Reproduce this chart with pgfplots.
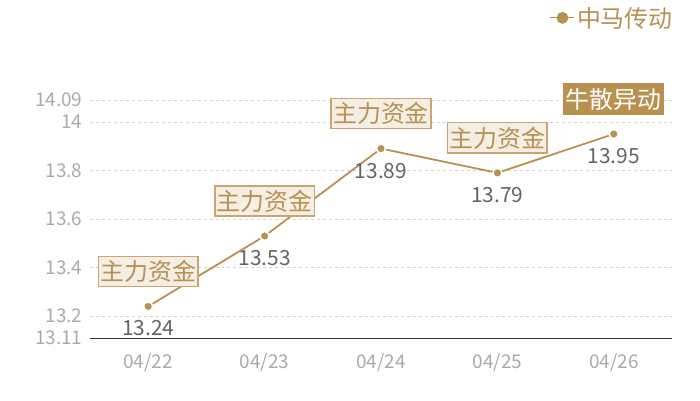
\documentclass[border=0pt]{standalone}
\usepackage{pgfplots}
\pgfplotsset{compat=1.18}
\usepackage{fontspec}
\setmainfont{Noto Sans CJK SC}
\definecolor{brn}{RGB}{184,145,80}
\definecolor{boxfill}{RGB}{244,238,229}
\definecolor{boxdraw}{RGB}{200,166,112}
\definecolor{ticklab}{RGB}{170,170,170}
\definecolor{vallab}{RGB}{100,100,100}
\definecolor{gridc}{RGB}{210,210,210}
\begin{document}
\begin{tikzpicture}[x=1bp,y=1bp]
\useasboundingbox (-90,-62) rectangle (610,338);
\begin{axis}[
  at={(0,0)}, anchor=south west,
  scale only axis, width=582bp, height=238bp,
  xmin=-0.5, xmax=4.5, ymin=13.11, ymax=14.09,
  xtick={0,1,2,3,4},
  xticklabels={04/22,04/23,04/24,04/25,04/26},
  ytick={13.11,13.2,13.4,13.6,13.8,14,14.09},
  yticklabels={13.11,13.2,13.4,13.6,13.8,14,14.09},
  /pgf/number format/assume math mode=true,
  axis x line*=bottom, axis y line*=left,
  x axis line style={draw=black!80, line width=0.8pt, -},
  y axis line style={draw=none},
  major tick length=0,
  ymajorgrids, grid style={gridc, dashed, line width=0.5pt},
  tick label style={ticklab, font=\fontsize{19}{19}\selectfont},
  xticklabel style={yshift=-12bp},
  yticklabel style={xshift=-4bp},
  clip=false,
  legend style={at={(1.005,1.345)}, anchor=east, draw=none, fill=none,
    font=\fontsize{24}{24}\selectfont, text=brn, inner sep=0pt},
  legend image code/.code={
    \draw[brn, line width=1.2pt] (-4bp,0bp) -- (20bp,0bp);
    \fill[brn] (8bp,0bp) circle (5bp);
  },
]
\addplot[brn, line width=1.8pt, mark=*, mark size=4.5bp,
  mark options={fill=brn, draw=white, line width=1.5pt}]
  coordinates {(0,13.24) (1,13.53) (2,13.89) (3,13.79) (4,13.95)};
\addlegendentry{中马传动}
\foreach \xx/\yy in {0/13.24,1/13.53,2/13.89,3/13.79,4/13.95}{
  \edef\tmp{\noexpand\node[vallab, font=\noexpand\fontsize{21}{21}\noexpand\selectfont]
    at (axis cs:\xx,\yy) [yshift=-22bp] {\yy};}
  \tmp
}
\foreach \xx/\yy in {0/13.24,1/13.53,2/13.89,3/13.79}{
  \edef\tmp{\noexpand\node[fill=boxfill, draw=boxdraw, line width=1.5pt, text=brn,
    inner xsep=2bp, inner ysep=4bp, font=\noexpand\fontsize{24}{24}\noexpand\selectfont]
    at (axis cs:\xx,\yy) [yshift=35bp] {主力资金};}
  \tmp
}
\node[fill=brn, text=white, inner xsep=2.5bp, inner ysep=4.5bp, font=\fontsize{24}{24}\selectfont]
  at (axis cs:4,13.95) [yshift=35bp] {牛散异动};
\end{axis}
\end{tikzpicture}
\end{document}
